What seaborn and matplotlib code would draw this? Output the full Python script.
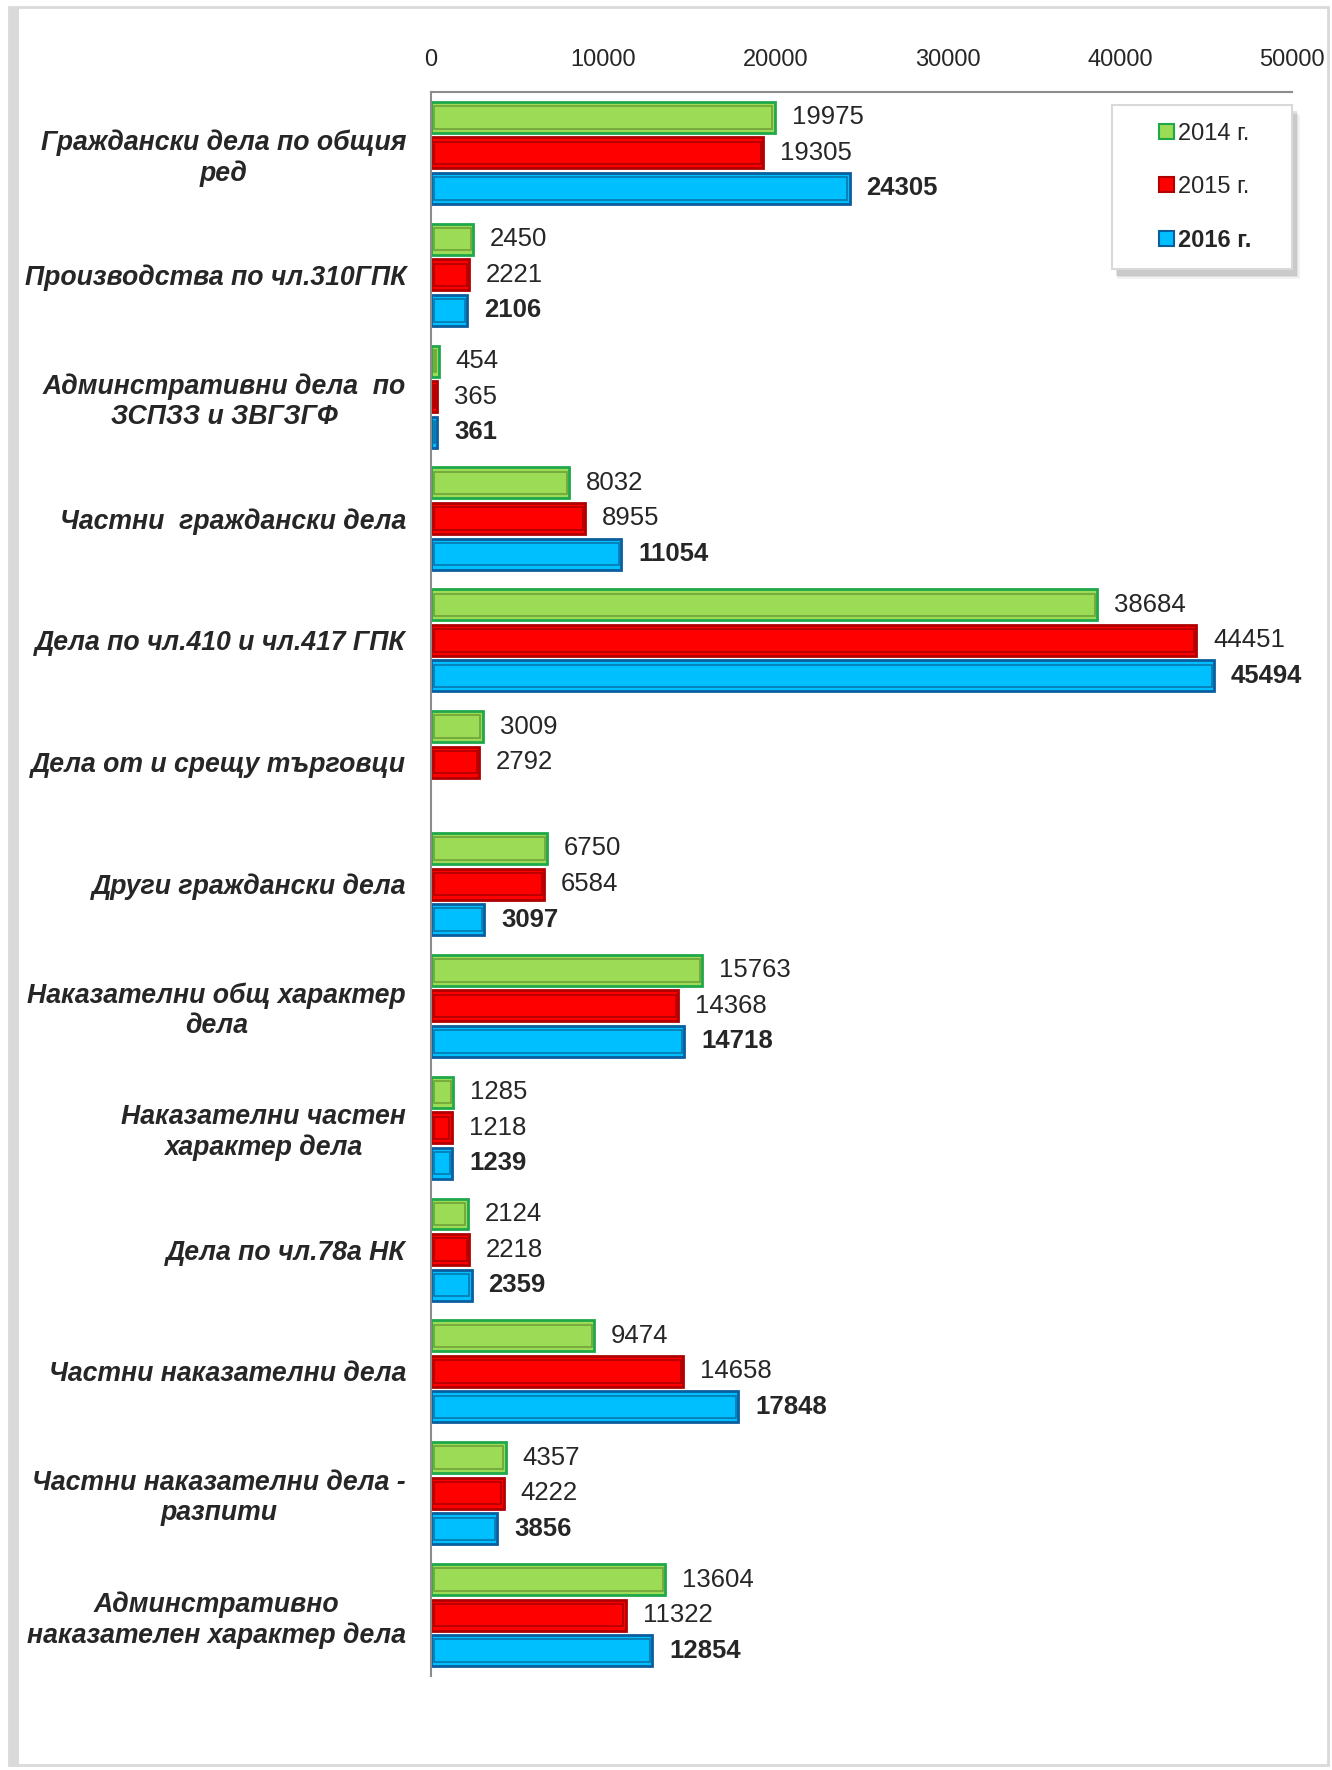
import numpy as np
import pandas as pd
import seaborn as sns
from matplotlib import pyplot as plt
from matplotlib.patches import Rectangle, Patch

# chart data
categories = [
    "Граждански дела по общия\nред",
    "Производства по чл.310ГПК",
    "Админстративни дела  по\nЗСПЗЗ и ЗВГЗГФ",
    "Частни  граждански дела",
    "Дела по чл.410 и чл.417 ГПК",
    "Дела от и срещу търговци",
    "Други граждански дела",
    "Наказателни общ характер\nдела",
    "Наказателни частен\nхарактер дела",
    "Дела по чл.78а НК",
    "Частни наказателни дела",
    "Частни наказателни дела -\nразпити",
    "Админстративно\nнаказателен характер дела",
]
years = ["2014 г.", "2015 г.", "2016 г."]
v2014 = [19975, 2450, 454, 8032, 38684, 3009, 6750, 15763, 1285, 2124, 9474, 4357, 13604]
v2015 = [19305, 2221, 365, 8955, 44451, 2792, 6584, 14368, 1218, 2218, 14658, 4222, 11322]
v2016 = [24305, 2106, 361, 11054, 45494, np.nan, 3097, 14718, 1239, 2359, 17848, 3856, 12854]
x_ticks = [0, 10000, 20000, 30000, 40000, 50000]

face_colors = ["#9BDB55", "#FF0000", "#00BFFF"]
edge_colors = ["#1FA84A", "#B00000", "#0A5E9E"]
inner_colors = ["#5E8A2E", "#8A0000", "#0A5A8A"]

df = pd.DataFrame({
    "category": categories * 3,
    "year": [years[0]] * 13 + [years[1]] * 13 + [years[2]] * 13,
    "value": v2014 + v2015 + v2016,
})

sns.set_style("white")
plt.rcParams['font.family'] = ['Liberation Sans', 'DejaVu Sans']

fig = plt.figure(figsize=(13.32, 17.70), dpi=100)
ax = fig.add_axes([0.3236, 0.0531, 0.6464, 0.8949])

sns.barplot(data=df, y="category", x="value", hue="year", hue_order=years,
            order=categories, palette=face_colors, width=0.875, orient="h",
            legend=False, ax=ax, saturation=1)

bar_h = 0.254
for i, cont in enumerate(ax.containers):
    for bar in cont:
        cy = bar.get_y() + bar.get_height() / 2
        bar.set_height(bar_h)
        bar.set_y(cy - bar_h / 2)
        bar.set_edgecolor(edge_colors[i])
        bar.set_linewidth(2)
        # bevel-like inner outline
        w = bar.get_width()
        if w > 300:
            ax.add_patch(Rectangle((bar.get_x() + 150, bar.get_y() + 0.035),
                                   w - 300, bar_h - 0.07, fill=False,
                                   edgecolor=inner_colors[i], linewidth=1.2,
                                   alpha=0.7))
    ax.bar_label(cont, padding=12, fontsize=18.5,
                 fontweight="bold" if i == 2 else "normal")

ax.set_xlim(0, 50000)
ax.set_ylim(12.5, -0.5)
ax.set_xticks(x_ticks)
ax.set_xticklabels([str(t) for t in x_ticks])
ax.xaxis.tick_top()
ax.tick_params(axis="x", length=0, labelsize=17, pad=15)
ax.tick_params(axis="y", length=0, pad=18)
ax.set_yticks(range(len(categories)))
ax.set_yticklabels(categories, fontsize=19.2, fontweight="bold", fontstyle="italic")
for lab in ax.get_yticklabels():
    lab.set_multialignment("center")
ax.set_xlabel("")
ax.set_ylabel("")

for s in ["right", "bottom"]:
    ax.spines[s].set_visible(False)
ax.spines["left"].set_color("#8C8C8C")
ax.spines["left"].set_linewidth(1.5)
ax.spines["top"].set_color("#8C8C8C")
ax.spines["top"].set_linewidth(1.5)

# legend box with a soft shadow
box_x0, box_y0, box_w, box_h = 0.791, 0.888, 0.209, 0.1038
for k, a in enumerate([0.10, 0.16, 0.22]):
    off = 0.002 * (3 - k)
    ax.add_patch(Rectangle((box_x0 + 0.004 + off * 0.3, box_y0 - 0.003 - off * 0.5),
                           box_w + off * 0.5, box_h, transform=ax.transAxes,
                           facecolor="#808080", edgecolor="none", alpha=a,
                           zorder=5, clip_on=False))
ax.add_patch(Rectangle((box_x0, box_y0), box_w, box_h, transform=ax.transAxes,
                       facecolor="white", edgecolor="#D9D9D9", linewidth=1.5,
                       zorder=6, clip_on=False))

handles = [Patch(facecolor=face_colors[i], edgecolor=edge_colors[i], linewidth=1.5)
           for i in range(3)]
leg = ax.legend(handles, years, loc="center",
                bbox_to_anchor=(box_x0 + box_w / 2 + 0.004, box_y0 + box_h / 2),
                borderaxespad=0, fontsize=17, handlelength=0.6, handleheight=0.6,
                handletextpad=0.2, labelspacing=1.31, borderpad=0.5,
                frameon=False)
leg.set_zorder(7)
leg.get_texts()[2].set_fontweight("bold")

# outer frame around the chart
fig.patches.append(Rectangle((0.007, 0.003), 0.99, 0.993, transform=fig.transFigure,
                             fill=False, edgecolor="#D9D9D9", linewidth=2))
fig.patches.append(Rectangle((0.007, 0.003), 0.007, 0.993, transform=fig.transFigure,
                             facecolor="#DADADA", edgecolor="none"))

fig.savefig("out.png", dpi=100)
